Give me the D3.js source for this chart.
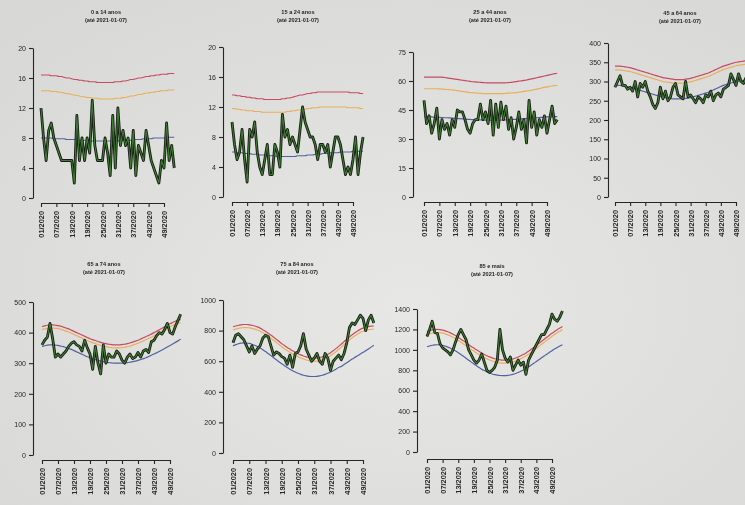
<!DOCTYPE html>
<html><head><meta charset="utf-8">
<script src="https://cdn.jsdelivr.net/npm/d3@7"></script>
<style>body{margin:0;background:#e0e1de;overflow:hidden} svg{display:block}</style>
</head><body><svg id="c" width="745" height="505"></svg>
<script>
// ---------- DATA ----------
const tickWeeks = [1,7,13,19,25,31,37,43,49];
const tickLabels = ["01/2020","07/2020","13/2020","19/2020","25/2020","31/2020","37/2020","43/2020","49/2020"];
const groups = ["0 a 14 anos","15 a 24 anos","25 a 44 anos","45 a 64 anos","65 a 74 anos","75 a 84 anos","85 e mais"];
const subtitle = "(até 2021-01-07)";
const yMaxes = [20,20,75,400,500,1000,1400];
const ySteps = [4,4,15,50,100,200,200];

// weekly values, weeks 1..53 of 2020
const observed_0_14 = [12,8,5,9,10,8,7,6,5,5, 5,5,5,2,11,5,8,5,8,6, 13,7,5,5,5,8,6,3,11,4, 12,7,9,7,8,4,9,3,7,6, 5,9,7,5,4,3,2,5,4,10, 5,7,4];
const upper_0_14 = [16.4,16.4,16.4,16.4,16.3,16.3,16.3,16.2,16.2,16.1, 16.0,16.0,15.9,15.8,15.8,15.7,15.7,15.6,15.6,15.5, 15.5,15.5,15.4,15.4,15.4,15.4,15.4,15.4,15.4,15.5, 15.5,15.5,15.6,15.6,15.7,15.8,15.8,15.9,16.0,16.0, 16.1,16.2,16.2,16.3,16.3,16.4,16.4,16.5,16.5,16.5, 16.6,16.6,16.6];
const alert_0_14 = [14.3,14.3,14.3,14.3,14.2,14.2,14.2,14.1,14.1,14.0, 13.9,13.9,13.8,13.7,13.7,13.6,13.5,13.5,13.4,13.4, 13.3,13.3,13.3,13.2,13.2,13.2,13.2,13.2,13.2,13.3, 13.3,13.3,13.4,13.4,13.5,13.6,13.6,13.7,13.8,13.8, 13.9,14.0,14.0,14.1,14.1,14.2,14.2,14.3,14.3,14.3, 14.4,14.4,14.4];
const baseline_0_14 = [8.0,8.0,8.0,8.0,8.0,7.9,7.9,7.9,7.9,7.9, 7.8,7.8,7.8,7.8,7.7,7.7,7.7,7.7,7.7,7.6, 7.6,7.6,7.6,7.6,7.6,7.6,7.6,7.6,7.6,7.6, 7.6,7.7,7.7,7.7,7.7,7.7,7.8,7.8,7.8,7.8, 7.9,7.9,7.9,7.9,8.0,8.0,8.0,8.0,8.0,8.1, 8.1,8.1,8.1];

const observed_15_24 = [10,7,5,6,9,5,2,9,8,10, 6,4,3,5,7,3,3,7,6,4, 11,8,9,7,8,7,6,9,12,10, 9,8,8,7,5,7,7,6,7,4, 6,8,8,7,5,3,4,3,5,8, 3,6,8];
const upper_15_24 = [13.6,13.6,13.5,13.5,13.4,13.4,13.3,13.3,13.2,13.2, 13.1,13.1,13.1,13.0,13.0,13.0,13.0,13.0,13.0,13.0, 13.1,13.1,13.2,13.2,13.3,13.4,13.5,13.6,13.6,13.7, 13.8,13.8,13.9,13.9,14.0,14.0,14.0,14.0,14.0,14.0, 14.0,14.0,14.0,14.0,14.0,14.0,14.0,13.9,13.9,13.9, 13.9,13.8,13.8];
const alert_15_24 = [11.8,11.8,11.7,11.7,11.6,11.6,11.5,11.5,11.5,11.4, 11.4,11.4,11.3,11.3,11.3,11.3,11.3,11.3,11.3,11.3, 11.3,11.3,11.4,11.4,11.5,11.5,11.6,11.6,11.7,11.7, 11.8,11.8,11.9,11.9,11.9,12.0,12.0,12.0,12.0,12.0, 12.0,12.0,12.0,12.0,12.0,12.0,11.9,11.9,11.9,11.9, 11.9,11.8,11.8];
const baseline_15_24 = [6.0,6.0,5.9,5.9,5.9,5.8,5.8,5.8,5.7,5.7, 5.7,5.6,5.6,5.6,5.5,5.5,5.5,5.5,5.4,5.4, 5.4,5.4,5.4,5.4,5.4,5.4,5.5,5.5,5.5,5.5, 5.6,5.6,5.6,5.7,5.7,5.7,5.8,5.8,5.8,5.9, 5.9,5.9,5.9,6.0,6.0,6.0,6.0,6.0,6.1,6.1, 6.1,6.1,6.1];

const observed_25_44 = [50,38,42,33,38,46,30,40,35,38, 32,40,36,45,44,44,40,35,33,38, 40,40,48,40,44,38,50,32,48,36, 49,40,47,35,41,30,36,44,35,40, 28,50,36,44,32,40,36,42,33,40, 47,38,40];
const upper_25_44 = [62,62,62,62,62,62,62,62,61.8,61.6, 61.4,61.2,61,60.8,60.6,60.4,60.2,60,59.8,59.6, 59.5,59.4,59.3,59.2,59.1,59,59,59,59,59, 59,59,59.1,59.2,59.3,59.5,59.7,59.9,60.1,60.3, 60.5,60.8,61.1,61.4,61.7,62,62.3,62.6,62.9,63.2, 63.5,63.8,64];
const alert_25_44 = [56,56,56,56,56,56,55.9,55.8,55.7,55.6, 55.5,55.4,55.2,55,54.8,54.6,54.4,54.2,54,53.9, 53.8,53.7,53.6,53.5,53.5,53.5,53.5,53.5,53.5,53.5, 53.5,53.5,53.6,53.7,53.8,53.9,54,54.2,54.4,54.6, 54.8,55,55.2,55.5,55.8,56.1,56.4,56.7,57,57.2, 57.4,57.6,57.8];
const baseline_25_44 = [41.5,41.5,41.4,41.4,41.3,41.3,41.2,41.1,41,41, 40.9,40.8,40.7,40.6,40.5,40.4,40.3,40.2,40.1,40, 40,39.9,39.9,39.8,39.8,39.8,39.8,39.8,39.8,39.8, 39.8,39.9,39.9,40,40,40.1,40.2,40.3,40.4,40.5, 40.6,40.7,40.8,40.9,41,41.1,41.2,41.3,41.4,41.5, 41.5,41.6,41.6];

const observed_45_64 = [285,300,315,290,290,280,285,275,300,260, 295,285,300,275,260,240,230,245,285,255, 275,250,260,285,295,265,260,255,300,260, 265,255,245,260,255,245,265,260,275,250, 265,270,260,280,285,290,320,305,290,320, 300,295,310];
const upper_45_64 = [340,340,340,339,338,337,336,334,332,330, 328,326,324,322,320,318,316,314,312,310, 309,308,307,306,305,305,305,305,306,307, 308,310,312,314,316,318,320,322,325,328, 331,334,337,340,342,344,346,348,350,351, 352,353,354];
const alert_45_64 = [330,330,330,329,328,327,326,324,322,320, 318,316,314,312,310,308,306,304,302,300, 299,298,297,296,296,296,296,296,297,298, 299,301,303,305,307,309,311,313,316,319, 322,325,328,331,333,335,337,339,341,342, 343,344,345];
const baseline_45_64 = [290,290,290,289,288,287,285,283,281,279, 277,275,273,271,269,267,265,263,261,259, 258,257,256,255,255,255,255,255,256,257, 258,260,262,264,266,268,270,272,275,278, 281,284,287,290,292,294,296,298,300,301, 302,303,304];

const observed_65_74 = [360,375,385,430,380,320,330,320,330,340, 355,365,370,360,355,340,375,350,330,280, 355,300,265,360,300,330,320,320,340,330, 310,300,320,330,315,320,335,320,340,345, 335,370,375,390,400,395,410,430,400,395, 420,440,460];
const upper_65_74 = [420,422,424,425,425,424,423,421,418,415, 412,408,404,400,396,392,388,384,380,377, 374,371,368,366,364,362,361,360,360,360, 361,362,364,366,369,372,375,379,383,387, 391,395,400,404,409,414,419,424,429,433, 437,440,443];
const alert_65_74 = [410,412,414,415,415,414,413,411,408,405, 402,398,394,390,386,382,378,374,370,367, 364,361,358,356,354,352,351,350,350,350, 351,352,354,356,359,362,365,369,373,377, 381,385,390,394,399,404,409,414,419,423, 427,430,433];
const baseline_65_74 = [355,357,359,360,360,359,358,356,354,351, 348,345,341,337,333,329,325,321,318,315, 312,309,307,305,303,302,301,300,300,300, 300,301,302,303,305,307,309,312,315,318, 322,326,330,334,338,343,348,353,358,363, 368,373,378];

const observed_75_84 = [720,770,780,760,740,700,660,700,650,680, 700,750,770,760,700,640,660,650,630,620, 580,640,560,650,660,700,780,680,640,600, 620,650,600,580,650,620,540,600,620,640, 610,650,720,820,850,840,870,900,880,800, 870,900,850];
const upper_75_84 = [825,830,835,838,840,840,838,835,830,824, 816,806,795,783,770,757,743,729,715,702, 690,679,668,658,649,641,634,628,624,621, 620,621,624,629,636,645,656,668,682,697, 712,728,744,759,773,786,798,808,816,822, 826,829,830];
const alert_75_84 = [805,810,815,818,820,820,818,815,810,804, 796,786,775,763,750,737,723,709,695,682, 670,659,648,638,629,621,614,608,604,601, 600,601,604,609,616,625,636,648,662,677, 692,708,724,739,753,766,778,788,796,802, 806,809,810];
const baseline_75_84 = [700,708,714,718,720,719,716,711,704,696, 686,675,663,650,637,623,609,596,583,571, 559,548,538,529,521,514,508,504,501,500, 500,501,504,508,514,521,529,538,548,559, 566,578,590,602,614,625,636,647,658,668, 680,692,704];

const observed_85 = [1130,1200,1280,1170,1160,1060,1020,1000,980,950, 1000,1080,1150,1200,1150,1100,1000,950,900,870, 900,960,880,800,780,800,830,900,1200,1000, 920,880,930,800,850,900,850,880,760,900, 950,1000,1050,1100,1150,1150,1200,1250,1350,1300, 1280,1320,1380];
const upper_85 = [1180,1188,1195,1199,1200,1198,1193,1186,1177,1166, 1153,1138,1122,1105,1088,1070,1052,1034,1017,1000, 984,969,955,942,931,921,913,907,903,900, 900,902,906,912,920,930,942,955,970,986, 1005,1024,1044,1064,1084,1104,1124,1143,1162,1180, 1197,1213,1228];
const alert_85 = [1150,1158,1165,1169,1170,1168,1163,1156,1147,1136, 1123,1108,1092,1075,1058,1040,1022,1004,987,970, 954,939,925,912,901,891,883,877,873,870, 870,872,876,882,890,900,912,925,940,956, 975,994,1014,1034,1054,1074,1094,1113,1132,1150, 1167,1183,1198];
const baseline_85 = [1030,1038,1045,1049,1050,1048,1043,1036,1027,1016, 1003,988,972,955,937,918,899,880,862,844, 827,811,797,784,773,764,757,752,749,748, 748,750,754,760,768,778,790,803,818,834, 851,868,886,904,922,940,958,975,992,1008, 1023,1037,1050];

const observedSets = [observed_0_14,observed_15_24,observed_25_44,observed_45_64,observed_65_74,observed_75_84,observed_85];
const upperSets = [upper_0_14,upper_15_24,upper_25_44,upper_45_64,upper_65_74,upper_75_84,upper_85];
const alertSets = [alert_0_14,alert_15_24,alert_25_44,alert_45_64,alert_65_74,alert_75_84,alert_85];
const baselineSets = [baseline_0_14,baseline_15_24,baseline_25_44,baseline_45_64,baseline_65_74,baseline_75_84,baseline_85];

// ---------- LAYOUT (pixel geometry of each small panel) ----------
const layout = [
  {ax:33,  x1:41,  x49:164, yTop:48,  y0:198, xAxisY:203, tx:106, ty:14},
  {ax:223, x1:232, x49:353, yTop:47,  y0:197, xAxisY:202, tx:298, ty:14},
  {ax:413, x1:424, x49:547, yTop:52,  y0:197, xAxisY:202, tx:490, ty:14},
  {ax:608, x1:615, x49:736, yTop:43,  y0:197, xAxisY:202, tx:680, ty:15},
  {ax:33,  x1:42,  x49:170, yTop:302, y0:455, xAxisY:460, tx:104, ty:266},
  {ax:223, x1:233, x49:363, yTop:300, y0:453, xAxisY:460, tx:297, ty:266},
  {ax:417, x1:427, x49:552, yTop:309, y0:452, xAxisY:459, tx:492, ty:268}
];
const colors = {upper:"#c84a62", alert:"#e9ae5a", baseline:"#52629e", obsEdge:"#151a12", obs:"#3f7a34", ink:"#262626"};
const font = "Liberation Sans, Arial, sans-serif";

// ---------- DRAW ----------
const svg = d3.select("#c");
const defs = svg.append("defs");
const rg = defs.append("radialGradient").attr("id","bg").attr("cx","55%").attr("cy","60%").attr("r","75%");
rg.append("stop").attr("offset","0%").attr("stop-color","#e7e8e5");
rg.append("stop").attr("offset","100%").attr("stop-color","#d8d9d6");
defs.append("filter").attr("id","soft").append("feGaussianBlur").attr("stdDeviation",0.35);
svg.append("rect").attr("width",745).attr("height",505).attr("fill","url(#bg)");

const root = svg.append("g").attr("filter","url(#soft)");

groups.forEach((name,i)=>{
  const L = layout[i];
  const x = d3.scaleLinear().domain([1,49]).range([L.x1, L.x49]);
  const y = d3.scaleLinear().domain([0,yMaxes[i]]).range([L.y0, L.yTop]);
  const g = root.append("g");

  // titles
  g.append("text").attr("x",L.tx).attr("y",L.ty).attr("text-anchor","middle")
    .attr("font-family",font).attr("font-size",5.6).attr("font-weight","bold")
    .attr("fill",colors.ink).text(name);
  g.append("text").attr("x",L.tx).attr("y",L.ty+8).attr("text-anchor","middle")
    .attr("font-family",font).attr("font-size",5.6).attr("font-weight","bold")
    .attr("fill",colors.ink).text(subtitle);

  // y axis
  const yAxis = d3.axisLeft(y).tickValues(d3.range(0,yMaxes[i]+1e-9,ySteps[i]))
    .tickFormat(d3.format("d")).tickSize(4).tickSizeOuter(0).tickPadding(3);
  const ya = g.append("g").attr("transform",`translate(${L.ax},0)`).call(yAxis);
  ya.selectAll("path,line").attr("stroke",colors.ink).attr("stroke-width",1.1);
  ya.selectAll("text").attr("font-family",font).attr("font-size",7).attr("fill",colors.ink);

  // x axis
  const xAxis = d3.axisBottom(x).tickValues(tickWeeks).tickFormat((d,k)=>tickLabels[k])
    .tickSize(4).tickSizeOuter(0);
  const xa = g.append("g").attr("transform",`translate(0,${L.xAxisY})`).call(xAxis);
  xa.selectAll("path,line").attr("stroke",colors.ink).attr("stroke-width",1.1);
  xa.selectAll("text").attr("font-family",font).attr("font-size",7.4)
    .attr("font-weight","bold").attr("fill",colors.ink)
    .attr("transform","rotate(-90)").attr("text-anchor","end")
    .attr("x",-8).attr("y",0).attr("dy","0.35em");

  const line = d3.line().x((d,k)=>x(k+1)).y(d=>y(d)).curve(d3.curveLinear);
  const smooth = d3.line().x((d,k)=>x(k+1)).y(d=>y(d)).curve(d3.curveMonotoneX);

  g.append("path").datum(baselineSets[i]).attr("d",smooth).attr("fill","none")
    .attr("stroke",colors.baseline).attr("stroke-width",1.2);
  g.append("path").datum(alertSets[i]).attr("d",smooth).attr("fill","none")
    .attr("stroke",colors.alert).attr("stroke-width",1.2);
  g.append("path").datum(upperSets[i]).attr("d",smooth).attr("fill","none")
    .attr("stroke",colors.upper).attr("stroke-width",1.2);
  g.append("path").datum(observedSets[i]).attr("d",line).attr("fill","none")
    .attr("stroke",colors.obsEdge).attr("stroke-width",2.8).attr("stroke-linejoin","round");
  g.append("path").datum(observedSets[i]).attr("d",line).attr("fill","none")
    .attr("stroke",colors.obs).attr("stroke-width",1.1).attr("stroke-linejoin","round");
});
</script>
</body></html>
